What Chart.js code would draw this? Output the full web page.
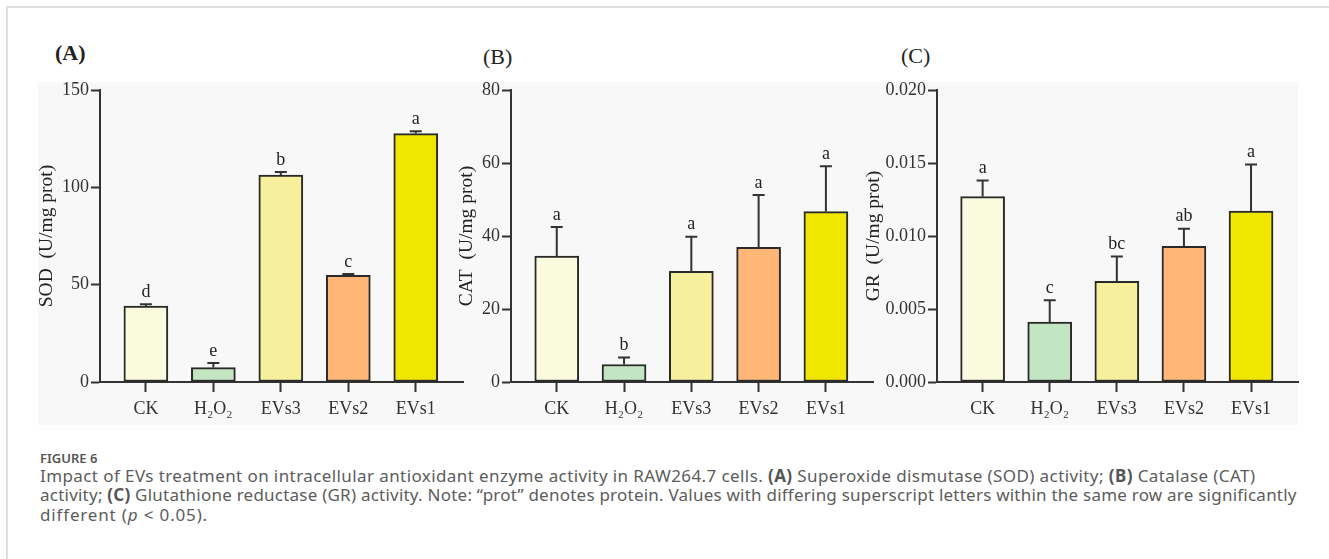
<!DOCTYPE html>
<html>
<head>
<meta charset="utf-8">
<title>Figure 6</title>
<script src="https://cdn.jsdelivr.net/npm/chart.js@4.4.0/dist/chart.umd.min.js"></script>
<style>
	body { margin:0; width:1329px; height:559px; background:#fff; position:relative; overflow:hidden; }
	.frame-top  { position:absolute; left:7px; top:6px; width:1322px; height:2px; background:#dfdfdf; }
	.frame-left { position:absolute; left:6px; top:6px; width:2px; height:553px; background:#dfdfdf; }
	.plot-bg    { position:absolute; left:38px; top:82px; width:1260px; height:343px; background:#f8f8f8; }
	canvas      { position:absolute; }
	.panel-tag  { position:absolute; font-family:'Liberation Serif', serif; font-size:22px; line-height:22px; color:#222; }
	.fig-no     { position:absolute; left:40px; top:452px; font-family:'Noto Sans', sans-serif; font-size:13px; line-height:13px; font-weight:600; color:#555; }
	.cap-line   { position:absolute; left:40px; font-family:'Noto Sans', sans-serif; font-size:17px; line-height:19px; color:#5c5c5c; white-space:nowrap; }
	.cap-line b { color:#555; }
</style>
</head>
<body>
<div class="frame-top"></div>
<div class="frame-left"></div>
<div class="plot-bg"></div>

<div class="panel-tag" style="left:55px; top:42px; font-weight:bold;">(A)</div>
<div class="panel-tag" style="left:483px; top:46px;">(B)</div>
<div class="panel-tag" style="left:901px; top:45px;">(C)</div>

<canvas id="chartSod" width="450" height="380" style="left:30px; top:60px;"></canvas>
<canvas id="chartCat" width="433" height="380" style="left:455px; top:60px;"></canvas>
<canvas id="chartGr"  width="451" height="380" style="left:862px; top:60px;"></canvas>

<div class="fig-no">FIGURE 6</div>
<div class="cap-line" data-w="1215" style="top:466px;">Impact of EVs treatment on intracellular antioxidant enzyme activity in RAW264.7 cells. <b>(A)</b> Superoxide dismutase (SOD) activity; <b>(B)</b> Catalase (CAT)</div>
<div class="cap-line" data-w="1257" style="top:485px;">activity; <b>(C)</b> Glutathione reductase (GR) activity. Note: “prot” denotes protein. Values with differing superscript letters within the same row are significantly</div>
<div class="cap-line" data-w="168" style="top:505px;">different (<i>p</i> &lt; 0.05).</div>

<script>
	//========================================================//
	// 데이터
	//--------------------------------------------------------//
	const groupLabels = ['CK', 'H₂O₂', 'EVs3', 'EVs2', 'EVs1'];
	const barColors   = ['#fafadf', '#c3e5c1', '#f6f09c', '#ffb676', '#f0e700'];

	// (A) SOD
	const sodValues  = [39.0, 7.4, 106.3, 54.8, 127.6];
	const sodErrors  = [0.9, 2.4, 1.6, 0.7, 1.2];
	const sodLetters = ['d', 'e', 'b', 'c', 'a'];
	const sodTicks   = [0, 50, 100, 150];

	// (B) CAT
	const catValues  = [34.5, 4.8, 30.3, 36.9, 46.7];
	const catErrors  = [8.0, 1.9, 9.5, 14.3, 12.4];
	const catLetters = ['a', 'b', 'a', 'a', 'a'];
	const catTicks   = [0, 20, 40, 60, 80];

	// (C) GR
	const grValues  = [0.0127, 0.0041, 0.0069, 0.0093, 0.0117];
	const grErrors  = [0.0011, 0.0015, 0.0017, 0.0012, 0.0032];
	const grLetters = ['a', 'c', 'bc', 'ab', 'a'];
	const grTicks   = [0, 0.005, 0.010, 0.015, 0.020];

	const INK   = '#333';
	const SERIF = 'Liberation Serif';

	// 캡션 줄 너비 맞춤
	//--------------------------------------------------------//
	document.querySelectorAll('.cap-line').forEach(function(el) {
		let w = el.getBoundingClientRect().width;
		let n = el.textContent.length;
		el.style.letterSpacing = ((+el.dataset.w - w) / n).toFixed(2) + 'px';
	});

	// 에러바 + 유의성 문자 플러그인
	//--------------------------------------------------------//
	let errorBarPlugin = {
		id: 'errorBars',
		afterDatasetsDraw: function(chart, args, opts) {
			let ctx = chart.ctx;
			let xs = chart.scales.x;
			let ys = chart.scales.y;
			ctx.save();
			ctx.strokeStyle = INK;
			ctx.lineWidth = 2;
			ctx.fillStyle = '#222';
			ctx.font = '18px "' + SERIF + '"';
			ctx.textAlign = 'center';
			ctx.textBaseline = 'bottom';
			opts.values.forEach(function(v, i) {
				let x  = xs.getPixelForValue(i);
				let y0 = ys.getPixelForValue(v);
				let y1 = ys.getPixelForValue(v + opts.errors[i]);
				ctx.beginPath();
				ctx.moveTo(x, y0);
				ctx.lineTo(x, y1);
				ctx.moveTo(x - 6, y1);
				ctx.lineTo(x + 6, y1);
				ctx.stroke();
				ctx.fillText(opts.letters[i], x, y1 - 3);
			});
			ctx.restore();
		}
	};

	// 차트생성
	//--------------------------------------------------------//
	let _charts = {};

	let _drawChart = function(id, args) {
		let element = document.getElementById(id);

		if (_charts[id])
			_charts[id].destroy();

		_charts[id] = new Chart(element, {
			type: 'bar',
			data: {
				datasets: [{
					data: args.values.map(function(v, i) { return {x: i, y: v}; }),
					backgroundColor: barColors,
					borderColor: '#2a2a2a',
					borderWidth: 2,
					borderSkipped: false,
					barThickness: 44
				}]
			},
			plugins: [errorBarPlugin],
			options: {
				responsive: false,
				animation: false,
				devicePixelRatio: 1,
				layout: { padding: { top: 30, right: args.padRight, bottom: 15, left: 0 } },
				plugins: {
					legend:  { display: false },
					tooltip: { enabled: false },
					errorBars: { values: args.values, errors: args.errors, letters: args.letters }
				},
				scales: {
					x: {
						type: 'linear',
						offset: false,
						min: -0.68,
						max: 4.7,
						afterBuildTicks: function(scale) {
							scale.ticks = groupLabels.map(function(l, i) { return {value: i}; });
						},
						afterFit: function(scale) { scale.height = 43; },
						grid: { offset: false, drawOnChartArea: false, drawTicks: true, tickLength: 10, tickWidth: 2, tickColor: INK },
						border: { display: true, color: INK, width: 2 },
						ticks: {
							padding: 6,
							color: INK,
							font: { family: SERIF, size: 18 },
							maxRotation: 0,
							autoSkip: false,
							callback: function(v) { return groupLabels[v]; }
						}
					},
					y: {
						min: args.ticks[0],
						max: args.ticks[args.ticks.length - 1],
						afterBuildTicks: function(scale) {
							scale.ticks = args.ticks.map(function(t) { return {value: t}; });
						},
						afterFit: function(scale) { scale.width = args.yWidth; },
						grid: { drawOnChartArea: false, drawTicks: true, tickLength: 9, tickWidth: 2, tickColor: INK },
						border: { display: true, color: INK, width: 2 },
						ticks: {
							padding: 2,
							color: INK,
							font: { family: SERIF, size: 18 },
							callback: function(v) { return args.decimals ? v.toFixed(args.decimals) : v; }
						},
						title: {
							display: true,
							text: args.title,
							color: '#222',
							font: { family: SERIF, size: 19.5 },
							padding: { top: args.titlePad, bottom: 0 }
						}
					}
				}
			}
		});
	};

	_drawChart('chartSod', {
		values: sodValues, errors: sodErrors, letters: sodLetters, ticks: sodTicks,
		title: 'SOD  (U/mg prot)', yWidth: 70, padRight: 17, titlePad: 5
	});
	_drawChart('chartCat', {
		values: catValues, errors: catErrors, letters: catLetters, ticks: catTicks,
		title: 'CAT  (U/mg prot)', yWidth: 56, padRight: 15, titlePad: 0
	});
	_drawChart('chartGr', {
		values: grValues, errors: grErrors, letters: grLetters, ticks: grTicks,
		title: 'GR  (U/mg prot)', yWidth: 75, padRight: 15, titlePad: 0, decimals: 3
	});
</script>
</body>
</html>
